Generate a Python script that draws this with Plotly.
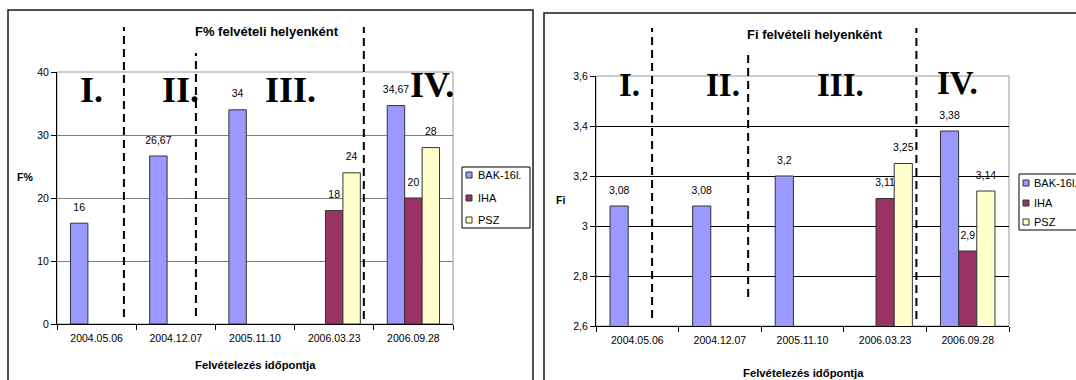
import plotly.graph_objects as go

# Sampling dates (categories) and series
dates = ["2004.05.06", "2004.12.07", "2005.11.10", "2006.03.23", "2006.09.28"]
series = ["BAK-16l.", "IHA", "PSZ"]
colors = ["#9999FF", "#993366", "#FFFFCC"]

# F% values per sampling site
f_bak = [16, 26.67, 34, None, 34.67]
f_iha = [None, None, None, 18, 20]
f_psz = [None, None, None, 24, 28]

# Fi values per sampling site
fi_bak = [3.08, 3.08, 3.2, None, 3.38]
fi_iha = [None, None, None, 3.11, 2.9]
fi_psz = [None, None, None, 3.25, 3.14]

periods = ["I.", "II.", "III.", "IV."]

W, H = 1076, 380
FONT = "Liberation Sans"
SERIF = "Liberation Serif"


def px(x):
    return x / W


def py(y):
    return 1 - y / H


def fmt(v):
    return "" if v is None else f"{v:g}".replace(".", ",")


panels = [
    dict(xa="x", ya="y", values=[f_bak, f_iha, f_psz],
         xdom=(57, 453), ydom=(324, 72), yrange=[0, 40], dtick=10, grid="#808080",
         frame=(8, 533, 10), title="F% felvételi helyenként", title_xy=(267, 31),
         ylabel="F%", ylabel_xy=(25, 177), xlabel_xy=(255, 365),
         dashes=[(0.345, 27, 317), (1.254, 53, 316), (3.374, 27, 319)],
         romans=[(91, 90), (180, 90), (290, 90), (432, 85)], roman_size=36,
         legend=dict(box=(462, 530, 167, 228), sq=466, tx=476, ys=[175, 198, 220])),
    dict(xa="x2", ya="y2", values=[fi_bak, fi_iha, fi_psz],
         xdom=(596, 1009), ydom=(326, 76), yrange=[2.6, 3.6], dtick=0.2, grid="#000000",
         frame=(544, 1090, 13), title="Fi felvételi helyenként", title_xy=(815, 34),
         ylabel="Fi", ylabel_xy=(560, 200), xlabel_xy=(803, 373),
         dashes=[(0.179, 28, 318), (1.342, 53, 297), (3.379, 28, 319)],
         romans=[(629, 85), (723, 85), (840, 85), (957, 83)], roman_size=33,
         legend=dict(box=(1019, 1100, 174, 230), sq=1023, tx=1032, ys=[183, 203, 222])),
]

fig = go.Figure()
shapes = []
annotations = []

for p in panels:
    # bars
    for name, vals, col in zip(series, p["values"], colors):
        fig.add_trace(go.Bar(
            x=dates, y=vals, name=name, xaxis=p["xa"], yaxis=p["ya"],
            marker=dict(color=col, line=dict(color="#333333", width=1)),
            showlegend=False, hoverinfo="skip",
        ))
    # value labels, grouped the same way as the bars
    for name, vals in zip(series, p["values"]):
        fig.add_trace(go.Scatter(
            x=dates, y=vals, text=[fmt(v) for v in vals], xaxis=p["xa"], yaxis=p["ya"],
            mode="markers+text", textposition="top center",
            marker=dict(size=14, opacity=0, color="white"),
            textfont=dict(family=FONT, size=10.5, color="black"),
            cliponaxis=False, showlegend=False, hoverinfo="skip",
        ))

    xdom_ref = p["xa"] + " domain"
    ydom_ref = p["ya"] + " domain"
    # outer chart frame
    fx0, fx1, fy0 = p["frame"]
    shapes.append(dict(type="rect", xref="paper", yref="paper",
                       x0=px(fx0), x1=px(fx1), y0=-0.05, y1=py(fy0),
                       line=dict(color="#1a1a1a", width=1.5), layer="below"))
    # plot area border
    shapes.append(dict(type="rect", xref=xdom_ref, yref=ydom_ref, x0=0, x1=1, y0=0, y1=1,
                       line=dict(color="#9a9a9a", width=1), layer="below"))
    # period separators
    for xc, y0, y1 in p["dashes"]:
        shapes.append(dict(type="line", xref=p["xa"], yref="paper",
                           x0=xc, x1=xc, y0=py(y1), y1=py(y0),
                           line=dict(color="black", width=2, dash="8px,5px"), layer="above"))
    # period labels
    for txt, (rx, ry) in zip(periods, p["romans"]):
        annotations.append(dict(text=f"<b>{txt}</b>", xref="paper", yref="paper",
                                x=px(rx), y=py(ry), xanchor="center", yanchor="middle",
                                showarrow=False,
                                font=dict(family=SERIF, size=p["roman_size"], color="black")))
    # titles
    tx, ty = p["title_xy"]
    annotations.append(dict(text=f"<b>{p['title']}</b>", xref="paper", yref="paper",
                            x=px(tx), y=py(ty), xanchor="center", yanchor="middle",
                            showarrow=False, font=dict(family=FONT, size=13, color="black")))
    lx, ly = p["ylabel_xy"]
    annotations.append(dict(text=f"<b>{p['ylabel']}</b>", xref="paper", yref="paper",
                            x=px(lx), y=py(ly), xanchor="center", yanchor="middle",
                            showarrow=False, font=dict(family=FONT, size=10.5, color="black")))
    bx, by = p["xlabel_xy"]
    annotations.append(dict(text="<b>Felvételezés időpontja</b>", xref="paper", yref="paper",
                            x=px(bx), y=py(by), xanchor="center", yanchor="middle",
                            showarrow=False, font=dict(family=FONT, size=11.3, color="black")))
    # legend box
    lg = p["legend"]
    lx0, lx1, ly0, ly1 = lg["box"]
    shapes.append(dict(type="rect", xref="paper", yref="paper",
                       x0=px(lx0), x1=px(lx1), y0=py(ly1), y1=py(ly0),
                       line=dict(color="black", width=1), fillcolor="white", layer="above"))
    for name, col, yy in zip(series, colors, lg["ys"]):
        shapes.append(dict(type="rect", xref="paper", yref="paper",
                           x0=px(lg["sq"]), x1=px(lg["sq"] + 6), y0=py(yy + 3), y1=py(yy - 3),
                           line=dict(color="#333333", width=1), fillcolor=col, layer="above"))
        annotations.append(dict(text=name, xref="paper", yref="paper",
                                x=px(lg["tx"]), y=py(yy), xanchor="left", yanchor="middle",
                                showarrow=False,
                                font=dict(family=FONT, size=11, color="black")))

axis_common = dict(showline=True, linecolor="black", linewidth=1, ticks="outside",
                   ticklen=5, tickcolor="black", tickwidth=1,
                   tickfont=dict(family=FONT, size=10.5, color="black"))

layout = dict(
    width=W, height=H, margin=dict(l=0, r=0, t=0, b=0, autoexpand=False),
    paper_bgcolor="white", plot_bgcolor="white",
    barmode="group", bargap=0.34, scattermode="group", scattergap=0.34,
    separators=",.", showlegend=False,
    shapes=shapes, annotations=annotations,
)

for p in panels:
    xkey = "xaxis" if p["xa"] == "x" else "xaxis2"
    ykey = "yaxis" if p["ya"] == "y" else "yaxis2"
    layout[xkey] = dict(axis_common, domain=[px(p["xdom"][0]), px(p["xdom"][1])],
                        anchor=p["ya"], type="category", categoryorder="array",
                        categoryarray=dates, tickson="boundaries", showgrid=False,
                        ticklabelstandoff=4)
    layout[ykey] = dict(axis_common, domain=[py(p["ydom"][0]), py(p["ydom"][1])],
                        anchor=p["xa"], range=p["yrange"], dtick=p["dtick"],
                        showgrid=True, gridcolor=p["grid"], gridwidth=1, zeroline=False)

fig.update_layout(**layout)
fig.write_html("out.html")
